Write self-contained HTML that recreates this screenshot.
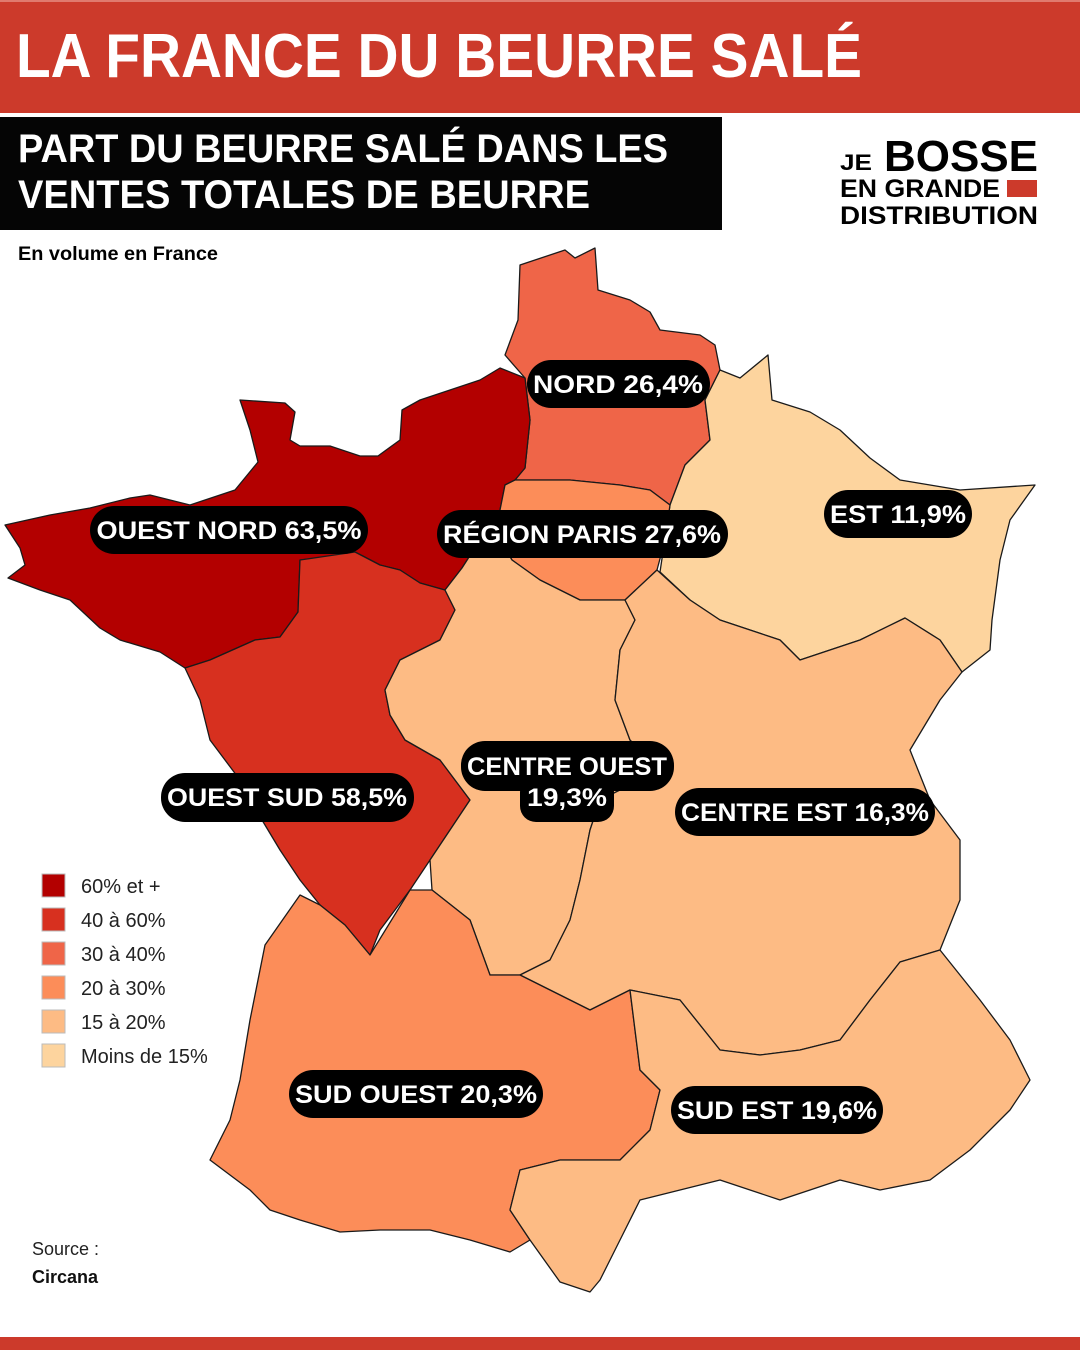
<!DOCTYPE html>
<html><head><meta charset="utf-8"><style>
html,body{margin:0;padding:0;background:#fff}
svg{display:block}
.t{font-family:"Liberation Sans",sans-serif;font-weight:bold;fill:#fff}
.b{font-family:"Liberation Sans",sans-serif;font-weight:bold}
.l{font-family:"Liberation Sans",sans-serif;font-size:20px;fill:#222}
</style></head><body>
<svg width="1080" height="1350" viewBox="0 0 1080 1350" xmlns="http://www.w3.org/2000/svg">
<rect x="0" y="0" width="1080" height="113" fill="#cc3a2b"/>
<rect x="0" y="0" width="1080" height="2" fill="#e07a6e"/>
<text x="16" y="77" class="t" font-size="62" textLength="846" lengthAdjust="spacingAndGlyphs">LA FRANCE DU BEURRE SALÉ</text>
<rect x="0" y="117" width="722" height="113" fill="#050505"/>
<text x="18" y="162" class="t" font-size="40" textLength="650" lengthAdjust="spacingAndGlyphs">PART DU BEURRE SALÉ DANS LES</text>
<text x="18" y="208" class="t" font-size="40" textLength="572" lengthAdjust="spacingAndGlyphs">VENTES TOTALES DE BEURRE</text>
<text x="18" y="260" class="b" font-size="19" textLength="200" lengthAdjust="spacingAndGlyphs">En volume en France</text>
<!-- logo -->
<text x="840" y="170" class="b" font-size="22" textLength="32" lengthAdjust="spacingAndGlyphs">JE</text>
<text x="884" y="171" class="b" font-size="44" textLength="154" lengthAdjust="spacingAndGlyphs">BOSSE</text>
<text x="840" y="197" class="b" font-size="25" textLength="160" lengthAdjust="spacingAndGlyphs">EN GRANDE</text>
<rect x="1007" y="180" width="30" height="17" fill="#cc3a2b"/>
<text x="840" y="224" class="b" font-size="25" textLength="198" lengthAdjust="spacingAndGlyphs">DISTRIBUTION</text>
<g stroke="#1a1a1a" stroke-width="1.3" stroke-linejoin="round">
<!-- Nord -->
<path fill="#ef6548" d="M520,265 L565,250 L575,258 L595,248 L598,290 L630,300 L650,312 L660,330 L700,335 L715,345 L720,370 L705,400 L710,440 L685,465 L670,505 L650,490 L620,485 L570,480 L515,480 L525,468 L530,420 L525,378 L505,355 L518,320 Z"/>
<!-- Est -->
<path fill="#fdd49e" d="M720,370 L740,378 L768,355 L772,400 L810,412 L840,430 L870,458 L900,480 L960,490 L1035,485 L1010,520 L1000,560 L992,620 L990,650 L962,672 L940,640 L905,618 L860,640 L800,660 L780,640 L720,620 L690,600 L660,572 L670,505 L685,465 L710,440 L705,400 Z"/>
<!-- Ouest Nord -->
<path fill="#b30000" d="M240,400 L285,403 L295,412 L290,440 L300,446 L330,446 L360,456 L378,456 L400,440 L402,410 L420,400 L450,390 L480,380 L500,368 L525,378 L530,420 L525,468 L515,480 L505,485 L500,510 L480,540 L462,568 L445,590 L420,583 L400,570 L380,565 L355,552 L320,558 L300,560 L298,612 L280,637 L255,640 L210,660 L185,668 L160,652 L120,640 L100,628 L70,600 L40,590 L8,578 L25,565 L20,548 L5,525 L50,515 L90,508 L130,498 L150,495 L190,505 L235,490 L258,462 L250,430 Z"/>
<!-- Ouest Sud -->
<path fill="#d7301f" d="M300,560 L355,552 L380,565 L400,570 L420,583 L445,590 L455,610 L440,640 L400,660 L385,690 L390,715 L405,740 L440,760 L470,800 L450,830 L430,860 L410,890 L380,930 L370,955 L345,925 L320,905 L300,880 L280,850 L262,820 L240,780 L210,740 L200,700 L185,668 L210,660 L255,640 L280,637 L298,612 Z"/>
<!-- Region Paris -->
<path fill="#fc8d59" d="M505,485 L515,480 L570,480 L620,485 L650,490 L670,505 L665,540 L657,570 L625,600 L580,600 L540,580 L512,560 L500,540 L500,510 Z"/>
<!-- Centre Ouest -->
<path fill="#fdbb84" d="M462,568 L480,540 L500,540 L512,560 L540,580 L580,600 L625,600 L635,620 L620,650 L615,700 L630,740 L660,770 L600,800 L590,830 L580,880 L570,920 L550,960 L520,975 L490,975 L470,920 L432,890 L430,860 L450,830 L470,800 L440,760 L405,740 L390,715 L385,690 L400,660 L440,640 L455,610 L445,590 Z"/>
<!-- Centre Est -->
<path fill="#fdbb84" d="M625,600 L657,570 L690,600 L720,620 L780,640 L800,660 L860,640 L905,618 L940,640 L962,672 L940,700 L910,750 L930,800 L960,840 L960,900 L940,950 L900,962 L870,1000 L840,1040 L800,1050 L760,1055 L720,1050 L680,1000 L630,990 L590,1010 L550,990 L520,975 L550,960 L570,920 L580,880 L590,830 L600,800 L660,770 L630,740 L615,700 L620,650 L635,620 Z"/>
<!-- Sud Ouest -->
<path fill="#fc8d59" d="M265,945 L300,895 L320,905 L345,925 L370,955 L410,890 L432,890 L470,920 L490,975 L520,975 L550,990 L590,1010 L630,990 L640,1070 L660,1090 L650,1130 L620,1160 L560,1160 L520,1170 L510,1210 L530,1240 L510,1252 L470,1240 L430,1230 L380,1230 L340,1232 L300,1220 L270,1210 L250,1190 L210,1160 L230,1120 L240,1080 L250,1020 Z"/>
<!-- Sud Est -->
<path fill="#fdbb84" d="M630,990 L680,1000 L720,1050 L760,1055 L800,1050 L840,1040 L870,1000 L900,962 L940,950 L980,1000 L1010,1040 L1030,1080 L1010,1110 L970,1150 L930,1180 L880,1190 L840,1180 L780,1200 L720,1180 L680,1190 L640,1200 L620,1240 L600,1280 L590,1292 L560,1282 L530,1240 L510,1210 L520,1170 L560,1160 L620,1160 L650,1130 L660,1090 L640,1070 Z"/>
</g>
<!-- labels -->
<g>
<rect x="527" y="360" width="183" height="48" rx="24" fill="#000"/>
<text x="618" y="393" class="t" font-size="25" text-anchor="middle" textLength="170" lengthAdjust="spacingAndGlyphs">NORD 26,4%</text>
<rect x="90" y="506" width="278" height="48" rx="24" fill="#000"/>
<text x="229" y="539" class="t" font-size="25" text-anchor="middle" textLength="265" lengthAdjust="spacingAndGlyphs">OUEST NORD 63,5%</text>
<rect x="437" y="510" width="291" height="48" rx="24" fill="#000"/>
<text x="582" y="543" class="t" font-size="25" text-anchor="middle" textLength="278" lengthAdjust="spacingAndGlyphs">RÉGION PARIS 27,6%</text>
<rect x="824" y="490" width="148" height="48" rx="24" fill="#000"/>
<text x="898" y="523" class="t" font-size="25" text-anchor="middle" textLength="136" lengthAdjust="spacingAndGlyphs">EST 11,9%</text>
<rect x="461" y="741" width="213" height="50" rx="24" fill="#000"/>
<rect x="520" y="776" width="94" height="46" rx="16" fill="#000"/>
<text x="567" y="775" class="t" font-size="25" text-anchor="middle" textLength="200" lengthAdjust="spacingAndGlyphs">CENTRE OUEST</text>
<text x="567" y="806" class="t" font-size="25" text-anchor="middle" textLength="80" lengthAdjust="spacingAndGlyphs">19,3%</text>
<rect x="161" y="773" width="253" height="49" rx="24" fill="#000"/>
<text x="287" y="806" class="t" font-size="25" text-anchor="middle" textLength="240" lengthAdjust="spacingAndGlyphs">OUEST SUD 58,5%</text>
<rect x="675" y="788" width="260" height="48" rx="24" fill="#000"/>
<text x="805" y="821" class="t" font-size="25" text-anchor="middle" textLength="248" lengthAdjust="spacingAndGlyphs">CENTRE EST 16,3%</text>
<rect x="289" y="1070" width="254" height="48" rx="24" fill="#000"/>
<text x="416" y="1103" class="t" font-size="25" text-anchor="middle" textLength="242" lengthAdjust="spacingAndGlyphs">SUD OUEST 20,3%</text>
<rect x="671" y="1086" width="212" height="48" rx="24" fill="#000"/>
<text x="777" y="1119" class="t" font-size="25" text-anchor="middle" textLength="200" lengthAdjust="spacingAndGlyphs">SUD EST 19,6%</text>
</g>
<!-- legend -->
<g stroke="#bbb" stroke-width="1">
<rect x="42" y="874" width="23" height="23" fill="#b30000"/>
<rect x="42" y="908" width="23" height="23" fill="#d7301f"/>
<rect x="42" y="942" width="23" height="23" fill="#ef6548"/>
<rect x="42" y="976" width="23" height="23" fill="#fc8d59"/>
<rect x="42" y="1010" width="23" height="23" fill="#fdbb84"/>
<rect x="42" y="1044" width="23" height="23" fill="#fdd49e"/>
</g>
<text x="81" y="893" class="l">60% et +</text>
<text x="81" y="927" class="l">40 à 60%</text>
<text x="81" y="961" class="l">30 à 40%</text>
<text x="81" y="995" class="l">20 à 30%</text>
<text x="81" y="1029" class="l">15 à 20%</text>
<text x="81" y="1063" class="l">Moins de 15%</text>
<text x="32" y="1255" font-family="Liberation Sans,sans-serif" font-size="18" fill="#222">Source :</text>
<text x="32" y="1283" class="b" font-size="18" fill="#111">Circana</text>
<rect x="0" y="1337" width="1080" height="13" fill="#cc3a2b"/>
</svg>
</body></html>
